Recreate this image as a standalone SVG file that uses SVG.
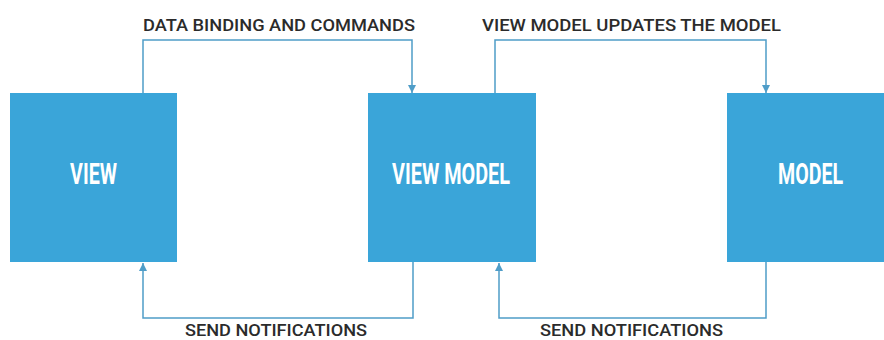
<svg xmlns="http://www.w3.org/2000/svg" width="884" height="340" viewBox="0 0 884 340">
<style>
.box{fill:#3aa5d9}
.lbl{font-family:Roboto,"Liberation Sans",sans-serif;font-weight:700;font-size:29px;fill:#ffffff;text-anchor:middle}
.cap{font-family:Roboto,"Liberation Sans",sans-serif;font-weight:500;font-size:17px;fill:#2b2b2b}
.ln{fill:none;stroke:#4f9dc8;stroke-width:1.5}
</style>
<defs>
<marker id="ah" viewBox="0 0 10 10" refX="10" refY="5" markerWidth="8" markerHeight="8" markerUnits="userSpaceOnUse" orient="auto">
<path d="M0,0 L10,5 L0,10 Z" fill="#4f9dc8"/>
</marker>
</defs>
<rect width="884" height="340" fill="#ffffff"/>
<g id="connectors">
<path class="ln" d="M143,94 V40 H412 V93" marker-end="url(#ah)"/>
<path class="ln" d="M495,94 V40 H766 V93" marker-end="url(#ah)"/>
<path class="ln" d="M413,262 V318 H143 V263" marker-end="url(#ah)"/>
<path class="ln" d="M766,262 V318 H499 V263" marker-end="url(#ah)"/>
<text class="cap" x="143" y="31" textLength="272" lengthAdjust="spacingAndGlyphs">DATA BINDING AND COMMANDS</text>
<text class="cap" x="482" y="31" textLength="299" lengthAdjust="spacingAndGlyphs">VIEW MODEL UPDATES THE MODEL</text>
<text class="cap" x="185" y="336" textLength="182" lengthAdjust="spacingAndGlyphs">SEND NOTIFICATIONS</text>
<text class="cap" x="540" y="336" textLength="183" lengthAdjust="spacingAndGlyphs">SEND NOTIFICATIONS</text>
</g>
<g id="view">
<rect class="box" x="10" y="93" width="167" height="169"/>
<text class="lbl" x="93.5" y="184" textLength="47" lengthAdjust="spacingAndGlyphs">VIEW</text>
</g>
<g id="viewmodel">
<rect class="box" x="368" y="93" width="168" height="169"/>
<text class="lbl" x="451" y="184" textLength="118" lengthAdjust="spacingAndGlyphs">VIEW MODEL</text>
</g>
<g id="model">
<rect class="box" x="727" y="93" width="167" height="169"/>
<text class="lbl" x="810.5" y="184" textLength="65" lengthAdjust="spacingAndGlyphs">MODEL</text>
</g>
</svg>
